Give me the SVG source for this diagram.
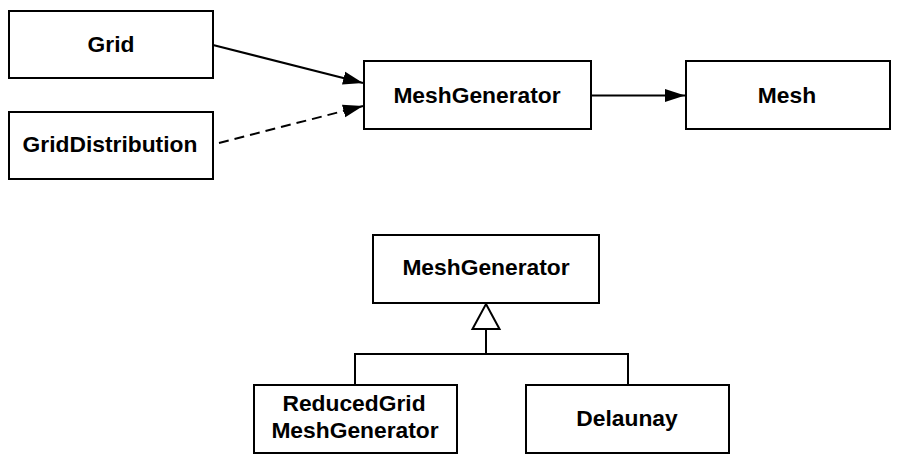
<svg xmlns="http://www.w3.org/2000/svg" width="901" height="458" viewBox="0 0 901 458">
<style>
.box{fill:#fff;stroke:#000;stroke-width:2}
.lbl{font-family:"Liberation Sans",Arial,sans-serif;font-weight:bold;font-size:22.8px;fill:#000;text-anchor:middle}
.ln{fill:none;stroke:#000;stroke-width:2}
.dash{stroke-dasharray:10 6}
</style>
<defs>
<marker id="arr" markerUnits="userSpaceOnUse" markerWidth="20" markerHeight="14" refX="20" refY="7" orient="auto">
<path d="M0,0.5 L20,7 L0,13.5 z" fill="#000"/>
</marker>
</defs>
<rect width="901" height="458" fill="#fff"/>
<g id="connectors">
<line class="ln" x1="213" y1="45" x2="363" y2="83" marker-end="url(#arr)"/>
<line class="ln dash" x1="219" y1="143" x2="363" y2="106" marker-end="url(#arr)"/>
<line class="ln" x1="591" y1="95.5" x2="685" y2="95.5" marker-end="url(#arr)"/>
<polygon class="ln" points="486,304 499.5,329 472.5,329"/>
<polyline class="ln" points="486,329 486,354"/>
<polyline class="ln" points="355,384 355,354 628,354 628,384"/>
</g>
<g id="grid">
<rect class="box" x="9" y="11" width="204" height="67"/>
<text class="lbl" x="111" y="52">Grid</text>
</g>
<g id="griddistribution">
<rect class="box" x="9" y="112" width="204" height="67"/>
<text class="lbl" x="110" y="152">GridDistribution</text>
</g>
<g id="meshgenerator">
<rect class="box" x="364" y="61" width="227" height="68"/>
<text class="lbl" x="477" y="103">MeshGenerator</text>
</g>
<g id="mesh">
<rect class="box" x="686" y="61" width="204" height="68"/>
<text class="lbl" x="787" y="103">Mesh</text>
</g>
<g id="meshgenerator-base">
<rect class="box" x="373" y="235" width="226" height="68"/>
<text class="lbl" x="486" y="275">MeshGenerator</text>
</g>
<g id="reducedgrid">
<rect class="box" x="254" y="385" width="203" height="68"/>
<text class="lbl" x="354" y="411">ReducedGrid</text>
<text class="lbl" x="355" y="438">MeshGenerator</text>
</g>
<g id="delaunay">
<rect class="box" x="526" y="385" width="203" height="68"/>
<text class="lbl" x="627" y="426">Delaunay</text>
</g>
</svg>
